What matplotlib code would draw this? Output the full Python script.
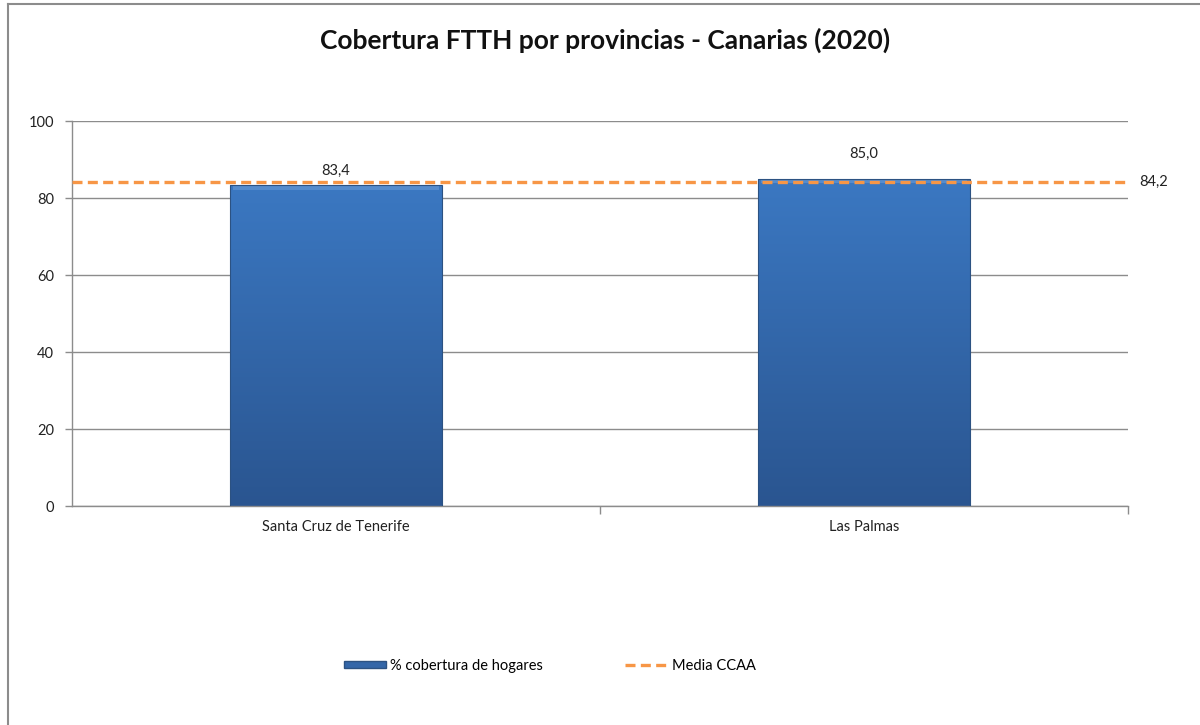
import numpy as np
import matplotlib
matplotlib.use("Agg")
import matplotlib.pyplot as plt
from matplotlib.lines import Line2D
from matplotlib.patches import Rectangle
from matplotlib.colors import LinearSegmentedColormap

# ---- data ----
categories = ["Santa Cruz de Tenerife", "Las Palmas"]
values = [83.4, 85.0]
value_labels = ["83,4", "85,0"]
media = 84.2
media_label = "84,2"
yticks = [0, 20, 40, 60, 80, 100]
title = "Cobertura FTTH por provincias - Canarias (2020)"
legend_labels = ["% cobertura de hogares", "Media CCAA"]

plt.rcParams['font.family'] = ['Lato', 'DejaVu Sans']

fig = plt.figure(figsize=(12, 7.25), dpi=100)
ax = fig.add_axes([0.06, 0.302, 0.88, 0.531])

x = np.arange(len(categories))
bar_w = 0.4
bars = ax.bar(x, values, width=bar_w, color="none", edgecolor="#2c5282", linewidth=0.8, zorder=3)

# gradient fill for bars
cmap = LinearSegmentedColormap.from_list("g", ["#2a5590", "#3b78c2"])
grad = np.linspace(0, 1, 256).reshape(-1, 1)
for b in bars:
    x0, y0 = b.get_x(), b.get_y()
    w, h = b.get_width(), b.get_height()
    im = ax.imshow(grad, extent=[x0, x0 + w, y0, y0 + h], origin="lower",
                   cmap=cmap, aspect="auto", zorder=2)
    im.set_clip_path(b)
    # bevel highlight on top
    ax.add_patch(Rectangle((x0 + 0.004, y0 + h - 1.2), w - 0.008, 0.9,
                           facecolor="#6a9bd6", edgecolor="none", alpha=0.6, zorder=2.5))

ax.set_xlim(-0.5, len(categories) - 0.5)
ax.set_ylim(0, 100)

ax.axhline(media, color="#f79646", linestyle=(0, (3, 1.6)), linewidth=2.4, zorder=4)
ax.annotate(media_label, xy=(1, media), xycoords=("axes fraction", "data"),
            xytext=(8, 0), textcoords="offset points", ha="left", va="center",
            fontsize=10.5, color="#222222")

label_offsets = [5, 13]
for xi, v, lab, off in zip(x, values, value_labels, label_offsets):
    ax.annotate(lab, xy=(xi, v), xytext=(0, off), textcoords="offset points",
                ha="center", va="bottom", fontsize=10.5, color="#222222")

ax.set_yticks(yticks)
ax.set_yticklabels([str(t) for t in yticks], fontsize=10.5, color="#222222")
ax.yaxis.grid(True, color="#8c8c8c", linewidth=1, zorder=0)
ax.set_axisbelow(True)

ax.set_xticks(x)
ax.set_xticklabels(categories, fontsize=10.5, color="#222222")
ax.tick_params(axis="x", length=0, pad=10)
ax.set_xticks([0.5, 1.5], minor=True)
ax.tick_params(axis="x", which="minor", length=6, color="#8c8c8c", width=1)
ax.tick_params(axis="y", length=5, color="#8c8c8c", width=1, pad=8)

for s in ["top", "right"]:
    ax.spines[s].set_visible(False)
for s in ["left", "bottom"]:
    ax.spines[s].set_color("#8c8c8c")
    ax.spines[s].set_linewidth(1)

fig.text(0.504, 0.945, title, ha="center", va="center", fontsize=19,
         fontweight="bold", color="#111111")

# figure border (top and left)
fig.add_artist(Line2D([0.007, 1.0], [0.994, 0.994], transform=fig.transFigure,
                      color="#8c8c8c", linewidth=1.5))
fig.add_artist(Line2D([0.007, 0.007], [0.0, 0.994], transform=fig.transFigure,
                      color="#8c8c8c", linewidth=1.5))

handles = [Rectangle((0, 0), 1, 1, facecolor="#3366a8", edgecolor="#2c5282"),
           Line2D([0], [0], color="#f79646", linestyle=(0, (3, 1.6)), linewidth=2.4)]
fig.legend(handles, legend_labels, loc="center", bbox_to_anchor=(0.458, 0.082),
           ncol=2, frameon=False, fontsize=10.5, columnspacing=5.6,
           handlelength=2.9, handletextpad=0.3, handleheight=0.4)

fig.savefig("out.png", dpi=100)
